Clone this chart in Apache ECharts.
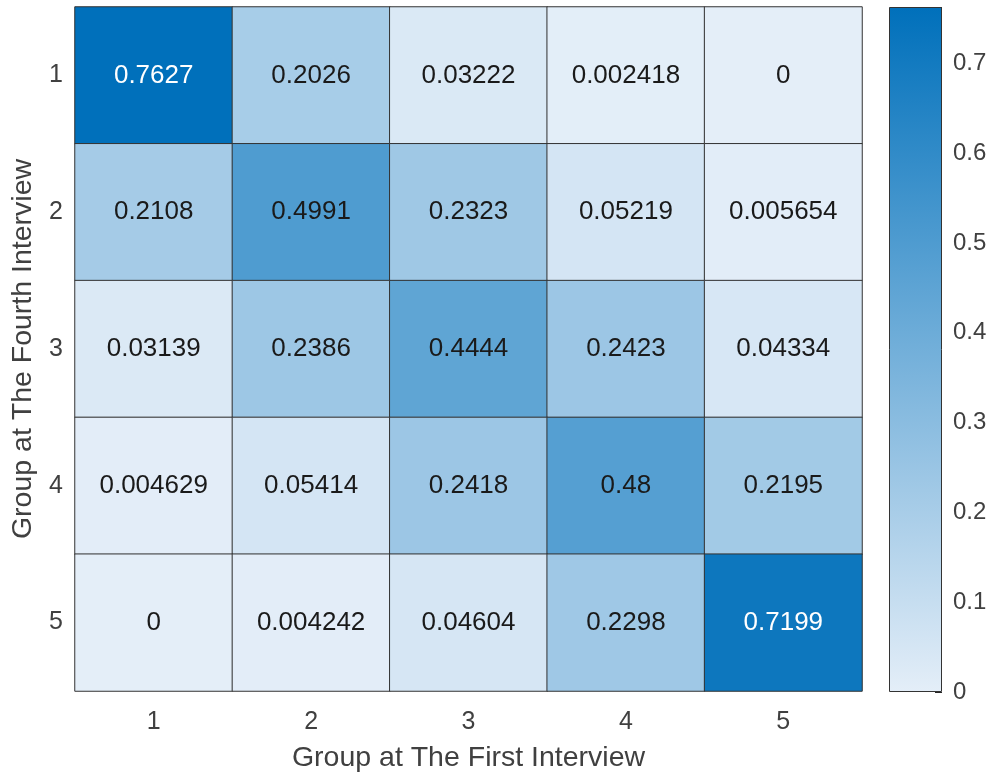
<!DOCTYPE html>
<html><head><meta charset="utf-8">
<script src="https://cdn.jsdelivr.net/npm/echarts@6/dist/echarts.min.js"></script>
<style>html,body{margin:0;padding:0;background:#fff}#c{width:992px;height:778px}</style>
</head><body><div id="c"></div>
<script>
const xCategories = ['1','2','3','4','5'];
const yCategories = ['1','2','3','4','5'];
const row1 = [0.7627, 0.2026, 0.03222, 0.002418, 0];
const row2 = [0.2108, 0.4991, 0.2323, 0.05219, 0.005654];
const row3 = [0.03139, 0.2386, 0.4444, 0.2423, 0.04334];
const row4 = [0.004629, 0.05414, 0.2418, 0.48, 0.2195];
const row5 = [0, 0.004242, 0.04604, 0.2298, 0.7199];
const colorbarTicks = [0, 0.1, 0.2, 0.3, 0.4, 0.5, 0.6, 0.7];
const colorMax = 0.7627;

const rows = [row1, row2, row3, row4, row5];
const lowC = '#e4eef8', highC = '#0070bb';
const FONT = '"Liberation Sans", Arial, sans-serif';
const data = [];
rows.forEach((r, yi) => r.forEach((v, xi) => {
  data.push({ value: [xi, yi, v], label: { color: v > 0.6 ? '#ffffff' : '#1a1a1a' } });
}));

const chart = echarts.init(document.getElementById('c'), null, { renderer: 'canvas' });
chart.setOption({
  animation: false,
  backgroundColor: '#ffffff',
  grid: [
    { left: 75, top: 7, width: 787, height: 685 },
    { left: 889, top: 7, width: 53, height: 685 }
  ],
  xAxis: [
    { type: 'category', gridIndex: 0, data: xCategories, position: 'bottom',
      axisLine: { show: false }, axisTick: { show: false }, splitLine: { show: false },
      axisLabel: { color: '#404040', fontSize: 25, fontFamily: FONT, margin: 19 },
      name: 'Group at The First Interview', nameLocation: 'middle', nameGap: 53,
      nameTextStyle: { color: '#404040', fontSize: 28.5, fontFamily: FONT } },
    { type: 'category', gridIndex: 1, data: ['c'], show: false }
  ],
  yAxis: [
    { type: 'category', gridIndex: 0, data: yCategories, inverse: true,
      axisLine: { show: false }, axisTick: { show: false }, splitLine: { show: false },
      axisLabel: { color: '#404040', fontSize: 25, fontFamily: FONT, margin: 12 },
      name: 'Group at The Fourth Interview', nameLocation: 'middle', nameGap: 37,
      nameTextStyle: { color: '#404040', fontSize: 28.5, fontFamily: FONT } },
    { type: 'value', gridIndex: 1, min: 0, max: colorMax, interval: 0.1, position: 'right',
      axisLine: { show: false }, splitLine: { show: false },
      axisTick: { show: true, inside: true, length: 7, lineStyle: { color: '#262626' } },
      axisLabel: { color: '#404040', fontSize: 24, fontFamily: FONT, margin: 11,
        formatter: v => (colorbarTicks.some(t => Math.abs(t - v) < 1e-9) ? String(+v.toFixed(1)) : '') } }
  ],
  visualMap: {
    show: false, min: 0, max: colorMax, seriesIndex: 0, dimension: 2,
    inRange: { color: [lowC, highC] }
  },
  series: [
    { type: 'heatmap', xAxisIndex: 0, yAxisIndex: 0, data: data,
      itemStyle: { borderColor: '#333333', borderWidth: 1 },
      label: { show: true, fontSize: 26, fontFamily: FONT,
        formatter: p => String(p.value[2]) },
      emphasis: { disabled: true } },
    { type: 'bar', xAxisIndex: 1, yAxisIndex: 1, data: [colorMax], barWidth: '100%',
      itemStyle: { borderColor: '#333333', borderWidth: 1,
        color: new echarts.graphic.LinearGradient(0, 1, 0, 0, [
          { offset: 0, color: lowC }, { offset: 1, color: highC }]) },
      silent: true }
  ]
});
</script></body></html>
